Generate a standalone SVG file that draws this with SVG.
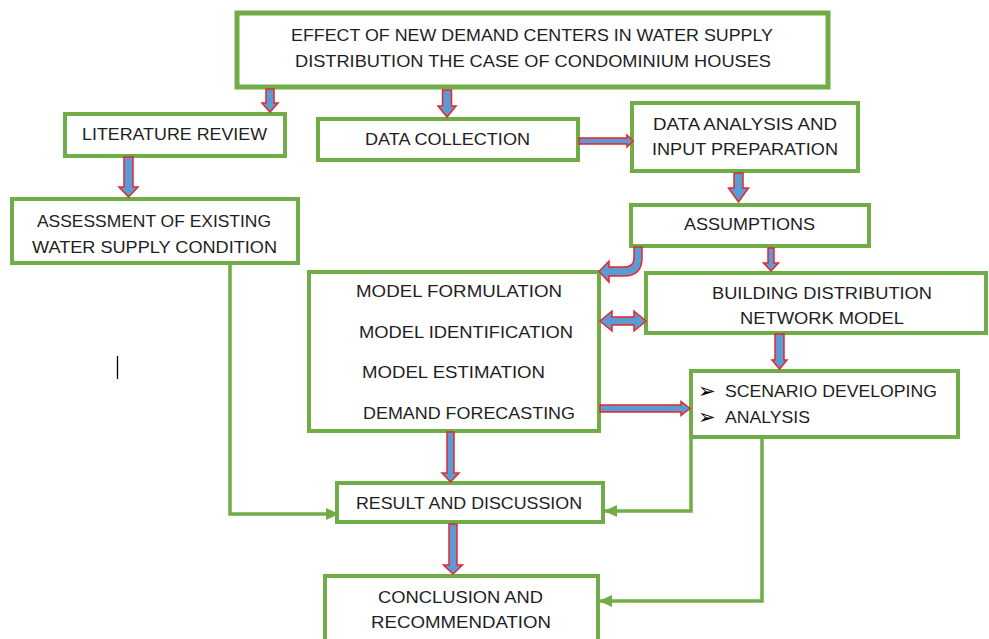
<svg xmlns="http://www.w3.org/2000/svg" width="989" height="639" viewBox="0 0 989 639">
<style>
.box{fill:#fff;stroke:#70AD47;stroke-width:4}
.t{font-family:"Liberation Sans",Arial,sans-serif;font-size:17px;fill:#1e1e1e}
.bul{font-family:"DejaVu Sans",sans-serif;font-size:21px;fill:#000}
.blk{fill:#5B9BD5;stroke:#E8262B;stroke-width:1.5;stroke-linejoin:miter}
.gl{fill:none;stroke:#70AD47;stroke-width:3.5;marker-end:url(#gh)}
</style>
<defs>
<marker id="gh" markerUnits="userSpaceOnUse" markerWidth="13" markerHeight="13" viewBox="0 0 13 13" refX="12" refY="6.5" orient="auto">
<path d="M0,0.5 L13,6.5 L0,12.5 Z" fill="#70AD47"/>
</marker>
</defs>
<rect x="0" y="0" width="989" height="639" fill="#fff"/>
<g id="title">
<rect class="box" x="237" y="13" width="591" height="74" style="stroke-width:5"/>
<text class="t" x="291" y="41" textLength="482" lengthAdjust="spacingAndGlyphs">EFFECT OF NEW DEMAND CENTERS IN WATER SUPPLY</text>
<text class="t" x="295" y="67" textLength="476" lengthAdjust="spacingAndGlyphs">DISTRIBUTION THE CASE OF CONDOMINIUM HOUSES</text>
</g>
<g id="literature">
<rect class="box" x="65" y="114" width="220" height="42"/>
<text class="t" x="82" y="140" textLength="185" lengthAdjust="spacingAndGlyphs">LITERATURE REVIEW</text>
</g>
<g id="datacollection">
<rect class="box" x="318" y="119" width="260" height="41"/>
<text class="t" x="365" y="145" textLength="165" lengthAdjust="spacingAndGlyphs">DATA COLLECTION</text>
</g>
<g id="dataanalysis">
<rect class="box" x="632" y="103" width="226" height="68"/>
<text class="t" x="653" y="130" textLength="184" lengthAdjust="spacingAndGlyphs">DATA ANALYSIS AND</text>
<text class="t" x="652" y="155" textLength="186" lengthAdjust="spacingAndGlyphs">INPUT PREPARATION</text>
</g>
<g id="assumptions">
<rect class="box" x="631" y="205" width="238" height="41"/>
<text class="t" x="684" y="230" textLength="131" lengthAdjust="spacingAndGlyphs">ASSUMPTIONS</text>
</g>
<g id="assessment">
<rect class="box" x="12" y="199" width="286" height="64"/>
<text class="t" x="37" y="227" textLength="234" lengthAdjust="spacingAndGlyphs">ASSESSMENT OF EXISTING</text>
<text class="t" x="32" y="253" textLength="245" lengthAdjust="spacingAndGlyphs">WATER SUPPLY CONDITION</text>
</g>
<g id="model">
<rect class="box" x="309" y="272" width="290" height="159"/>
<text class="t" x="356" y="297" textLength="206" lengthAdjust="spacingAndGlyphs">MODEL FORMULATION</text>
<text class="t" x="359" y="338" textLength="214" lengthAdjust="spacingAndGlyphs">MODEL IDENTIFICATION</text>
<text class="t" x="362" y="378" textLength="183" lengthAdjust="spacingAndGlyphs">MODEL ESTIMATION</text>
<text class="t" x="363" y="419" textLength="212" lengthAdjust="spacingAndGlyphs">DEMAND FORECASTING</text>
</g>
<g id="building">
<rect class="box" x="646" y="273" width="340" height="60"/>
<text class="t" x="712" y="299" textLength="220" lengthAdjust="spacingAndGlyphs">BUILDING DISTRIBUTION</text>
<text class="t" x="740" y="324" textLength="164" lengthAdjust="spacingAndGlyphs">NETWORK MODEL</text>
</g>
<g id="scenario">
<rect class="box" x="691" y="371" width="267" height="66"/>
<text class="bul" x="698" y="398">➢</text>
<text class="t" x="725" y="397" textLength="212" lengthAdjust="spacingAndGlyphs">SCENARIO DEVELOPING</text>
<text class="bul" x="698" y="424">➢</text>
<text class="t" x="725" y="423" textLength="85" lengthAdjust="spacingAndGlyphs">ANALYSIS</text>
</g>
<g id="result">
<rect class="box" x="337" y="483" width="266" height="39"/>
<text class="t" x="356" y="509" textLength="226" lengthAdjust="spacingAndGlyphs">RESULT AND DISCUSSION</text>
</g>
<g id="conclusion">
<rect class="box" x="325" y="576" width="273" height="70"/>
<text class="t" x="378" y="603" textLength="165" lengthAdjust="spacingAndGlyphs">CONCLUSION AND</text>
<text class="t" x="371" y="628" textLength="180" lengthAdjust="spacingAndGlyphs">RECOMMENDATION</text>
</g>
<line x1="117.5" y1="356" x2="117.5" y2="379" stroke="#000" stroke-width="1.3"/>
<g id="connectors">
<path class="blk" d="M266,89 L274,89 L274,103 L278,103 L270,112 L262,103 L266,103 Z"/>
<path class="blk" d="M442.5,90 L451.5,90 L451.5,106 L456,106 L447,117 L438,106 L442.5,106 Z"/>
<path class="blk" d="M124,157 L133,157 L133,187 L138,187 L128.5,197 L119,187 L124,187 Z"/>
<path class="blk" d="M734,173 L743,173 L743,188 L748.5,188 L738.5,202 L728.5,188 L734,188 Z"/>
<path class="blk" d="M768,248 L774,248 L774,263 L778.5,263 L771,271 L763.5,263 L768,263 Z"/>
<path class="blk" d="M775,334 L784,334 L784,360 L787,360 L779.5,369 L772,360 L775,360 Z"/>
<path class="blk" d="M447,432 L454,432 L454,473 L459,473 L450.5,482 L442,473 L447,473 Z"/>
<path class="blk" d="M449,524 L457,524 L457,565 L462.5,565 L453,574 L443.5,565 L449,565 Z"/>
<path class="blk" d="M579,138 L627,138 L627,135 L633,141 L627,147 L627,144 L579,144 Z"/>
<path class="blk" d="M600,405 L681,405 L681,401.5 L690,408.5 L681,415.5 L681,412 L600,412 Z"/>
<path class="blk" d="M600,321 L612,311 L612,317 L634,317 L634,311 L646,321 L634,331 L634,325 L612,325 L612,331 Z"/>
<path class="blk" d="M634,247 L642,247 L642,258 Q642,276 624,276 L609,276 L609,282 L599,271.5 L609,261 L609,267 L624,267 Q634,267 634,258 Z"/>
<polyline class="gl" points="230,264 230,514 338,514"/>
<polyline class="gl" points="691,438 691,511 605,511"/>
<polyline class="gl" points="762,438 762,601 600,601"/>
</g>
</svg>
